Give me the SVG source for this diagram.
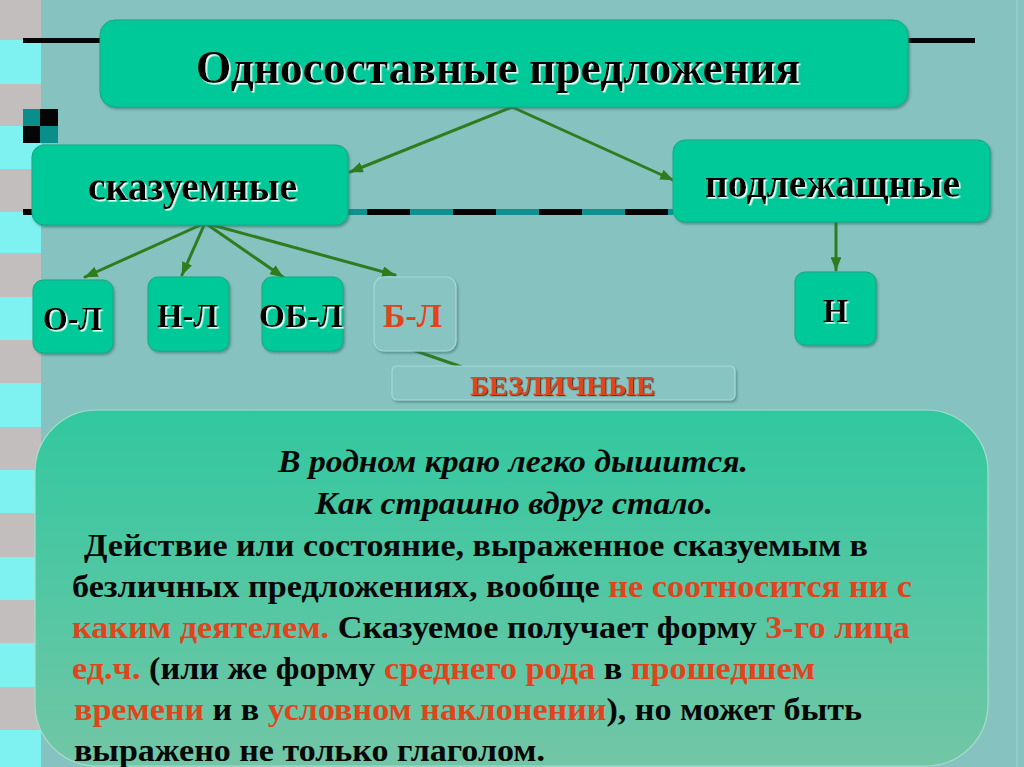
<svg xmlns="http://www.w3.org/2000/svg" width="1024" height="767" viewBox="0 0 1024 767">
<style>
.box{fill:#05C999;stroke:#0AA982;stroke-width:1}
.pale{fill:#87C4C2;stroke:#A9D9D7;stroke-width:1.2}
.lbl{font-family:"Liberation Serif","Times New Roman",serif;font-weight:bold;fill:#050505}
.red{fill:#E0441D}
.blk{fill:#070707}
.con{stroke:#2F7C1E;stroke-width:3;fill:none;stroke-linecap:round}
.body{font-family:"Liberation Serif","Times New Roman",serif;font-weight:bold;font-size:32px;fill:#070707}
</style>
<defs>
<marker id="ah" viewBox="0 0 10 8" refX="9.5" refY="4" markerWidth="4.5" markerHeight="3.6" orient="auto" markerUnits="strokeWidth">
<path d="M0,0 L10,4 L0,8 Z" fill="#2F7C1E"/>
</marker>
<filter id="lsh" x="-10%" y="-20%" width="120%" height="150%">
<feDropShadow dx="1.6" dy="1.6" stdDeviation="0.4" flood-color="#E6FFF6" flood-opacity="1"/>
</filter>
<filter id="dsh" x="-10%" y="-20%" width="120%" height="150%">
<feDropShadow dx="1.2" dy="1.2" stdDeviation="0.4" flood-color="#3A2010" flood-opacity="0.8"/>
</filter>
<filter id="bsh" x="-10%" y="-10%" width="125%" height="130%">
<feDropShadow dx="1.5" dy="2" stdDeviation="1.2" flood-color="#2F6E6A" flood-opacity="0.55"/>
</filter>
<linearGradient id="bg1" x1="0" y1="0" x2="0" y2="1">
<stop offset="0" stop-color="#31C89F"/>
<stop offset="1" stop-color="#72C6A6"/>
</linearGradient>
</defs>

<!-- background -->
<rect x="0" y="0" width="1024" height="767" fill="#86C2C0"/>
<rect x="0" y="0" width="41" height="767" fill="#7EF2F0"/>
<g fill="#C3BEBE">
<rect x="0" y="0" width="41" height="40"/>
<rect x="0" y="84" width="41" height="42"/>
<rect x="0" y="169" width="41" height="43"/>
<rect x="0" y="253" width="41" height="44"/>
<rect x="0" y="340" width="41" height="43"/>
<rect x="0" y="427" width="41" height="43"/>
<rect x="0" y="513" width="41" height="44"/>
<rect x="0" y="600" width="41" height="43"/>
<rect x="0" y="687" width="41" height="43"/>
</g>
<line x1="1017" y1="0" x2="1017" y2="767" stroke="#A2D2D0" stroke-width="1"/>

<!-- decorative lines -->
<rect x="23" y="38" width="952" height="5" fill="#050505"/>
<rect x="23" y="209" width="650" height="6" fill="#10908E"/>
<line x1="23" y1="212" x2="673" y2="212" stroke="#050505" stroke-width="6" stroke-dasharray="43 43"/>
<rect x="23" y="109" width="17" height="17" fill="#0A8E8C"/>
<rect x="40" y="109" width="18" height="17" fill="#050505"/>
<rect x="23" y="126" width="17" height="17" fill="#050505"/>
<rect x="40" y="126" width="18" height="17" fill="#0A8E8C"/>

<!-- connectors -->
<g id="connectors">
<line class="con" x1="512" y1="107" x2="350" y2="172" marker-end="url(#ah)"/>
<line class="con" x1="512" y1="107" x2="673" y2="180" marker-end="url(#ah)"/>
<line class="con" x1="205" y1="223" x2="85" y2="277" marker-end="url(#ah)"/>
<line class="con" x1="205" y1="223" x2="182" y2="275" marker-end="url(#ah)"/>
<line class="con" x1="205" y1="223" x2="283" y2="277" marker-end="url(#ah)"/>
<line class="con" x1="205" y1="223" x2="395" y2="275" marker-end="url(#ah)"/>
<line class="con" x1="836" y1="222" x2="836" y2="270" marker-end="url(#ah)"/>
<line class="con" x1="413" y1="350" x2="462" y2="367"/>
</g>

<g id="title">
<rect class="box" x="100" y="20" width="808" height="87" rx="15" filter="url(#bsh)"/>
<text class="lbl" x="196" y="83" font-size="46" textLength="604" lengthAdjust="spacingAndGlyphs" filter="url(#lsh)">Односоставные предложения</text>
</g>

<g id="n-skaz">
<rect class="box" x="32" y="145" width="316" height="80" rx="12" filter="url(#bsh)"/>
<text class="lbl" x="88" y="200" font-size="40" textLength="209" lengthAdjust="spacingAndGlyphs" filter="url(#lsh)">сказуемные</text>
</g>

<g id="n-podl">
<rect class="box" x="673" y="140" width="317" height="82" rx="12" filter="url(#bsh)"/>
<text class="lbl" x="705" y="197" font-size="40" textLength="255" lengthAdjust="spacingAndGlyphs" filter="url(#lsh)">подлежащные</text>
</g>

<g id="n-ol">
<rect class="box" x="33" y="280" width="80" height="73" rx="10" filter="url(#bsh)"/>
<text class="lbl" x="43" y="330" font-size="33" textLength="59" lengthAdjust="spacingAndGlyphs" filter="url(#lsh)">О-Л</text>
</g>

<g id="n-nl">
<rect class="box" x="148" y="277" width="81" height="74" rx="10" filter="url(#bsh)"/>
<text class="lbl" x="157" y="327" font-size="33" textLength="61" lengthAdjust="spacingAndGlyphs" filter="url(#lsh)">Н-Л</text>
</g>

<g id="n-obl">
<rect class="box" x="262" y="277" width="81" height="74" rx="10" filter="url(#bsh)"/>
<text class="lbl" x="259" y="327" font-size="33" textLength="84" lengthAdjust="spacingAndGlyphs" filter="url(#lsh)">ОБ-Л</text>
</g>

<g id="n-bl">
<rect class="pale" x="374" y="277" width="82" height="74" rx="10" filter="url(#bsh)"/>
<text class="lbl red" x="383" y="327" font-size="33" textLength="59" lengthAdjust="spacingAndGlyphs">Б-Л</text>
</g>

<g id="n-n">
<rect class="box" x="795" y="272" width="81" height="73" rx="10" filter="url(#bsh)"/>
<text class="lbl" x="823" y="322" font-size="34" textLength="25" lengthAdjust="spacingAndGlyphs" filter="url(#lsh)">Н</text>
</g>

<g id="n-bezl">
<rect class="pale" x="392" y="366" width="343" height="34" rx="5" filter="url(#bsh)"/>
<text class="lbl red" x="470" y="395" font-size="27" textLength="185" lengthAdjust="spacingAndGlyphs" filter="url(#dsh)">БЕЗЛИЧНЫЕ</text>
</g>

<g id="text-box">
<rect x="35" y="410" width="953" height="356" rx="62" fill="url(#bg1)" stroke="#A6DECB" stroke-width="1.2"/>
<text class="body" x="278" y="472" font-style="italic" textLength="470" lengthAdjust="spacingAndGlyphs">В родном краю легко дышится.</text>
<text class="body" x="315" y="514" font-style="italic" textLength="398" lengthAdjust="spacingAndGlyphs">Как страшно вдруг стало.</text>
<text class="body" x="84" y="556" textLength="784" lengthAdjust="spacingAndGlyphs">Действие или состояние, выраженное сказуемым в</text>
<text class="body" x="72" y="597" textLength="840" lengthAdjust="spacingAndGlyphs"><tspan class="blk">безличных предложениях, вообще </tspan><tspan class="red">не соотносится ни с</tspan></text>
<text class="body" x="72" y="638" textLength="838" lengthAdjust="spacingAndGlyphs"><tspan class="red">каким деятелем.</tspan><tspan class="blk"> Сказуемое получает форму </tspan><tspan class="red">3-го лица</tspan></text>
<text class="body" x="72" y="679" textLength="743" lengthAdjust="spacingAndGlyphs"><tspan class="red">ед.ч.</tspan><tspan class="blk"> (или же форму </tspan><tspan class="red">среднего рода</tspan><tspan class="blk"> в </tspan><tspan class="red">прошедшем</tspan></text>
<text class="body" x="74" y="720" textLength="788" lengthAdjust="spacingAndGlyphs"><tspan class="red">времени</tspan><tspan class="blk"> и в </tspan><tspan class="red">условном наклонении</tspan><tspan class="blk">), но может быть</tspan></text>
<text class="body" x="74" y="761" textLength="471" lengthAdjust="spacingAndGlyphs">выражено не только глаголом.</text>
</g>
</svg>
